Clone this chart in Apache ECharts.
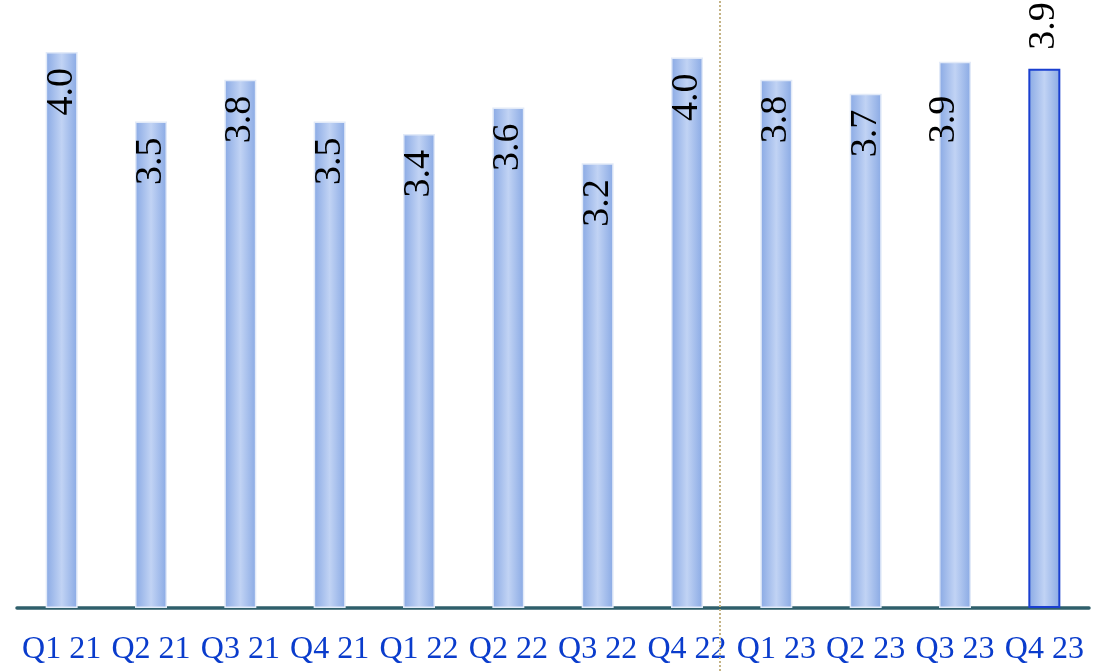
<!DOCTYPE html>
<html>
<head>
<meta charset="utf-8">
<script src="https://cdn.jsdelivr.net/npm/echarts@6/dist/echarts.min.js"></script>
<style>
html,body{margin:0;padding:0;background:#fff;}
#chart{width:1114px;height:671px;}
</style>
</head>
<body>
<div id="chart"></div>
<script>
var categories = ['Q1 21','Q2 21','Q3 21','Q4 21','Q1 22','Q2 22','Q3 22','Q4 22','Q1 23','Q2 23','Q3 23','Q4 23'];
var values = [4.0, 3.5, 3.8, 3.5, 3.41, 3.6, 3.2, 3.96, 3.8, 3.7, 3.93, 3.88];
var dividerPosition = [7.87];

var barGrad = new echarts.graphic.LinearGradient(0, 0, 1, 0, [
  {offset: 0, color: '#89a9e4'},
  {offset: 0.5, color: '#c1d3f4'},
  {offset: 1, color: '#89a9e4'}
]);

var data = values.map(function (v, i) {
  var item = {value: v};
  if (i === 10) {
    item.label = {offset: [0, -11], distance: 34};
  }
  if (i === 11) {
    item.itemStyle = {borderColor: '#1a3fd0', borderWidth: 2};
    item.label = {position: 'top', align: 'left', distance: 19};
  }
  return item;
});

var chart = echarts.init(document.getElementById('chart'));
chart.setOption({
  animation: false,
  grid: [
    {left: 17, right: 25, top: 0, bottom: 63},
    {left: 17, right: 25, top: 0, bottom: 0}
  ],
  xAxis: [
    {
      type: 'category', data: categories, gridIndex: 0,
      axisLine: {show: true, lineStyle: {color: '#2f5f6b', width: 3.5}},
      axisTick: {show: false},
      axisLabel: {
        color: '#0a3ccc', fontFamily: 'Liberation Serif', fontSize: 32,
        margin: 26, interval: 0
      },
      splitLine: {show: false}
    },
    {
      type: 'value', gridIndex: 1, min: 0, max: 12, show: false
    }
  ],
  yAxis: [
    {type: 'value', gridIndex: 0, min: 0, max: 4.374, show: false},
    {type: 'value', gridIndex: 1, min: 0, max: 1, show: false}
  ],
  series: [
    {
      type: 'bar', data: data, xAxisIndex: 0, yAxisIndex: 0,
      barWidth: 32,
      itemStyle: {color: barGrad, borderColor: '#e2eaf8', borderWidth: 1.5},
      label: {
        show: true, position: 'insideTop', rotate: 90,
        align: 'right', verticalAlign: 'middle', distance: 16,
        fontFamily: 'Liberation Serif', fontSize: 38, color: '#000',
        formatter: function (p) { return p.value.toFixed(1); }
      },
      z: 2
    },
    {
      type: 'line', xAxisIndex: 1, yAxisIndex: 1, data: [],
      markLine: {
        silent: true, symbol: 'none', label: {show: false},
        lineStyle: {color: '#c4b385', width: 2, type: 'dotted'},
        data: dividerPosition.map(function (x) { return {xAxis: x}; })
      },
      z: 1
    }
  ]
});
</script>
</body>
</html>
